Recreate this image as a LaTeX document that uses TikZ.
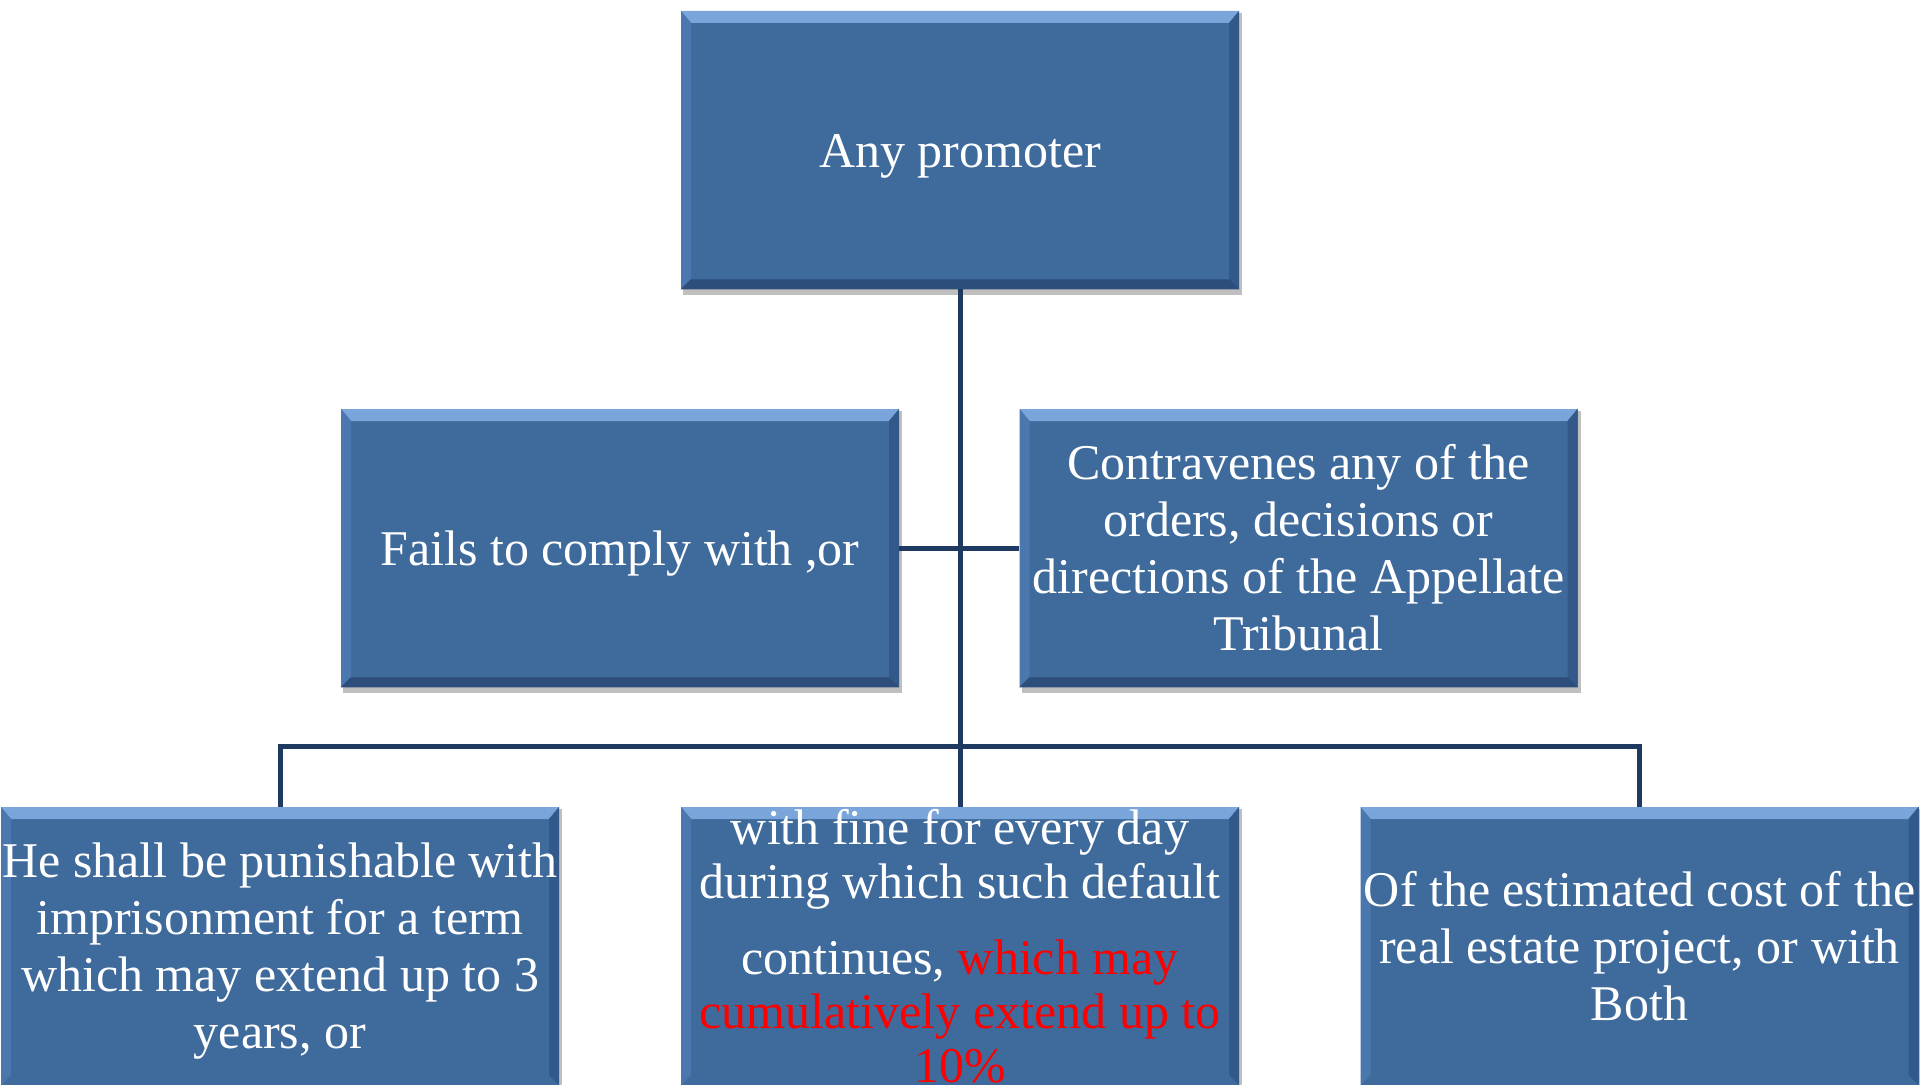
\documentclass[tikz,border=0pt]{standalone}
\usepackage{fontspec}
\setmainfont{Liberation Serif}
\definecolor{boxfill}{HTML}{3F6A9C}
\definecolor{bevtopA}{HTML}{7BA6DC}
\definecolor{bevtopB}{HTML}{4F7DB5}
\definecolor{bevleft}{HTML}{4A77AD}
\definecolor{bevright}{HTML}{33598A}
\definecolor{bevbot}{HTML}{2D4E7A}
\definecolor{linkcol}{HTML}{1F3A60}
\newcommand\lowertext[1]{\raisebox{-3pt}[\height][\depth]{\begin{tabular}{@{}c@{}}#1\end{tabular}}}
\tikzset{
  x=0.5pt, y=-0.5pt,
  bevtopstrip/.style={path picture={
    \shade[top color=bevtopA, bottom color=bevtopB]
      (path picture bounding box.north west) -- (path picture bounding box.north east)
      -- ([xshift=-5pt,yshift=-6pt]path picture bounding box.north east)
      -- ([xshift=5pt,yshift=-6pt]path picture bounding box.north west) -- cycle;
    \fill[bevleft]
      (path picture bounding box.north west) -- ([xshift=5pt,yshift=-6pt]path picture bounding box.north west)
      -- ([xshift=5pt,yshift=5pt]path picture bounding box.south west)
      -- (path picture bounding box.south west) -- cycle;
    \fill[bevright]
      (path picture bounding box.north east) -- ([xshift=-5pt,yshift=-6pt]path picture bounding box.north east)
      -- ([xshift=-5pt,yshift=5pt]path picture bounding box.south east)
      -- (path picture bounding box.south east) -- cycle;
  }},
  boxbase/.style={rectangle, fill=boxfill, minimum width=279pt, minimum height=139pt,
    inner sep=0pt, text=white, align=center, font=\fontsize{25}{28.5}\selectfont},
  box/.style={boxbase, bevtopstrip},
  link/.style={draw=linkcol, line width=2.5pt},
  shadowbox/.style={fill=black, opacity=0.25}
}
\begin{document}
\begin{tikzpicture}
\useasboundingbox (0,0) rectangle (1920,1085);
\clip (0,0) rectangle (1920,1085);
\fill[white] (0,0) rectangle (1920,1085);
% shadows
\foreach \cx/\cy in {960/150, 620/548, 1298.5/548, 280/946, 960/946, 1639.5/946}{
  \fill[shadowbox] (\cx-277,\cy-137) rectangle (\cx+282,\cy+145);
}
\node[box] (top) at (960,150) {\lowertext{Any promoter}};
\node[box] (ml) at (620,548) {\lowertext{Fails to comply with ,or}};
\node[box] (mr) at (1298.5,548) {Contravenes any of the\\orders, decisions or\\directions of the Appellate\\Tribunal};
\node[box] (bl) at (280,946) {\lowertext{He shall be punishable with\\imprisonment for a term\\which may extend up to 3\\years, or}};
\node[box, font=\fontsize{25}{27}\selectfont] (bm) at (960,946) {with fine for every day\\during which such default\\[11pt]continues, {\color{red}which may}\\{\color{red}cumulatively extend up to}\\{\color{red}10\%}};
\node[box] (br) at (1639.5,946) {Of the estimated cost of the\\real estate project, or with\\Both};
% bottom bevels for the upper rows
\foreach \n in {top, ml, mr}{
  \fill[bevbot] (\n.south west) -- ([xshift=5pt,yshift=5pt]\n.south west)
    -- ([xshift=-5pt,yshift=5pt]\n.south east) -- (\n.south east) -- cycle;
}
% connectors
\draw[link] (top.south) -- (bm.north);
\draw[link] (ml.east) -- (mr.west);
\draw[link] (bl.north) -- ++(0,-60) -| (br.north);
\end{tikzpicture}
\end{document}
